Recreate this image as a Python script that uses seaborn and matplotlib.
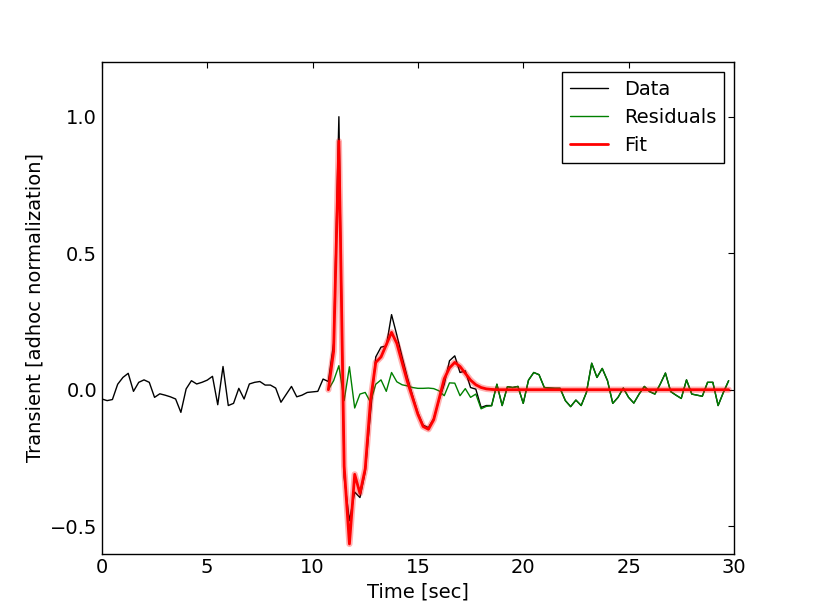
import numpy as np
import pandas as pd
import matplotlib
matplotlib.use("Agg")
import matplotlib.pyplot as plt
import seaborn as sns

# Sampling: 0.25 s steps from 0 to 29.75 s
dt = 0.25

data = [
    -0.034, -0.040, -0.036, 0.020, 0.045, 0.060, -0.006, 0.027, 0.036, 0.027,
    -0.028, -0.015, -0.020, -0.026, -0.034, -0.083, 0.003, 0.033, 0.021, 0.027,
    0.035, 0.049, -0.055, 0.085, -0.058, -0.050, 0.005, -0.034, 0.021, 0.027,
    0.030, 0.017, 0.017, 0.006, -0.046, -0.017, 0.012, -0.026, -0.020, -0.010,
    -0.008, -0.006, 0.039, 0.030,
    0.170, 1.000, -0.320, -0.480, -0.375, -0.395, -0.300, -0.085, 0.120, 0.156,
    0.160, 0.275, 0.200, 0.120, 0.045, -0.022, -0.085, -0.130, -0.139, -0.106,
    -0.039, 0.020, 0.106, 0.124, 0.063, 0.069, 0.008, 0.002, -0.065, -0.058,
    -0.058, 0.020, -0.058, 0.011, 0.008, 0.012, -0.050, 0.035, 0.063, 0.055,
    0.008, 0.006, 0.005, 0.005, -0.040, -0.062, -0.038, -0.058, -0.010, 0.097,
    0.045, 0.078, 0.033, -0.050, -0.028, 0.006, -0.028, -0.049, -0.016, 0.012,
    -0.007, -0.016, 0.020, 0.061, -0.007, -0.020, -0.032, 0.036, -0.016, -0.020,
    -0.024, 0.027, 0.027, -0.058, -0.010, 0.033,
]

# Fit and residuals start at t = 10.75 s
fit_start = 10.75
fit = [
    0.000, 0.140, 0.910, -0.280, -0.565, -0.310, -0.380, -0.290, -0.040, 0.100,
    0.120, 0.165, 0.210, 0.170, 0.100, 0.030, -0.030, -0.090, -0.135, -0.145,
    -0.110, -0.035, 0.040, 0.080, 0.100, 0.085, 0.060, 0.035, 0.018, 0.008,
    0.003, 0.001, 0.000, 0.000, 0.000, 0.000, 0.000, 0.000, 0.000, 0.000,
    0.000, 0.000, 0.000, 0.000, 0.000, 0.000, 0.000, 0.000, 0.000, 0.000,
    0.000, 0.000, 0.000, 0.000, 0.000, 0.000, 0.000, 0.000, 0.000, 0.000,
    0.000, 0.000, 0.000, 0.000, 0.000, 0.000, 0.000, 0.000, 0.000, 0.000,
    0.000, 0.000, 0.000, 0.000, 0.000, 0.000, 0.000,
]
residuals = [
    0.000, 0.033, 0.088, -0.040, 0.084, -0.067, -0.016, -0.010, -0.046, 0.020,
    0.036, -0.006, 0.063, 0.029, 0.018, 0.014, 0.008, 0.005, 0.005, 0.006,
    0.004, -0.004, -0.022, 0.025, 0.024, -0.022, 0.004, -0.028, -0.016, -0.070,
    -0.061, -0.059,
    0.020, -0.058, 0.011, 0.008, 0.012, -0.050, 0.035, 0.063, 0.055,
    0.008, 0.006, 0.005, 0.005, -0.040, -0.062, -0.038, -0.058, -0.010, 0.097,
    0.045, 0.078, 0.033, -0.050, -0.028, 0.006, -0.028, -0.049, -0.016, 0.012,
    -0.007, -0.016, 0.020, 0.061, -0.007, -0.020, -0.032, 0.036, -0.016, -0.020,
    -0.024, 0.027, 0.027, -0.058, -0.010, 0.033,
]

xticks = [0, 5, 10, 15, 20, 25, 30]
yticks = [-0.5, 0.0, 0.5, 1.0]

t_data = np.arange(len(data)) * dt
t_fit = fit_start + np.arange(len(fit)) * dt
t_res = fit_start + np.arange(len(residuals)) * dt

df_data = pd.DataFrame({"t": t_data, "v": data})
df_fit = pd.DataFrame({"t": t_fit, "v": fit})
df_res = pd.DataFrame({"t": t_res, "v": residuals})

sns.set_style("white")
plt.rcParams.update({
    "font.family": ["DejaVu Sans"],
    "font.size": 14,
    "text.color": "black",
    "axes.labelcolor": "black",
    "xtick.direction": "in",
    "ytick.direction": "in",
    "xtick.top": True,
    "ytick.right": True,
    "xtick.major.size": 4,
    "ytick.major.size": 4,
    "xtick.major.width": 0.8,
    "ytick.major.width": 0.8,
    "xtick.color": "black",
    "ytick.color": "black",
    "axes.edgecolor": "black",
    "axes.linewidth": 1.0,
    "xtick.labelsize": 14,
    "ytick.labelsize": 14,
})

fig = plt.figure(figsize=(8.15, 6.15), dpi=100)
ax = fig.add_axes([0.125, 0.1, 0.7755, 0.799])

sns.lineplot(data=df_data, x="t", y="v", ax=ax, color="black", lw=1.0,
             estimator=None, sort=False, label="Data", zorder=2)
sns.lineplot(data=df_res, x="t", y="v", ax=ax, color="#008000", lw=1.0,
             estimator=None, sort=False, label="Residuals", zorder=3)
sns.lineplot(data=df_fit, x="t", y="v", ax=ax, color="red", lw=4.5, alpha=0.3,
             estimator=None, sort=False, legend=False, zorder=4)
sns.lineplot(data=df_fit, x="t", y="v", ax=ax, color="red", lw=2.7,
             estimator=None, sort=False, label="Fit", zorder=5)

ax.set_xlim(0, 30)
ax.set_ylim(-0.6, 1.2)
ax.set_xticks(xticks)
ax.set_yticks(yticks)
ax.set_xticklabels([str(x) for x in xticks])
ax.set_yticklabels(["\u22120.5", "0.0", "0.5", "1.0"])
ax.set_xlabel("Time [sec]", fontsize=14, color="black")
ax.set_ylabel("Transient [adhoc normalization]", fontsize=14, color="black")
for s in ax.spines.values():
    s.set_visible(True)
    s.set_color("black")

handles, labels = ax.get_legend_handles_labels()
for h in handles:
    h.set_alpha(1.0)
handles[2].set_linewidth(2.0)
leg = ax.legend(handles, labels, loc="upper right", fontsize=14, frameon=True,
                fancybox=False, shadow=False, borderaxespad=0.5,
                handlelength=2.0, borderpad=0.4, labelspacing=0.47)
leg.get_frame().set_edgecolor("black")
leg.get_frame().set_linewidth(1.0)
leg.get_frame().set_alpha(1.0)
for txt in leg.get_texts():
    txt.set_color("black")

fig.savefig("out.png", dpi=100, facecolor="white")
